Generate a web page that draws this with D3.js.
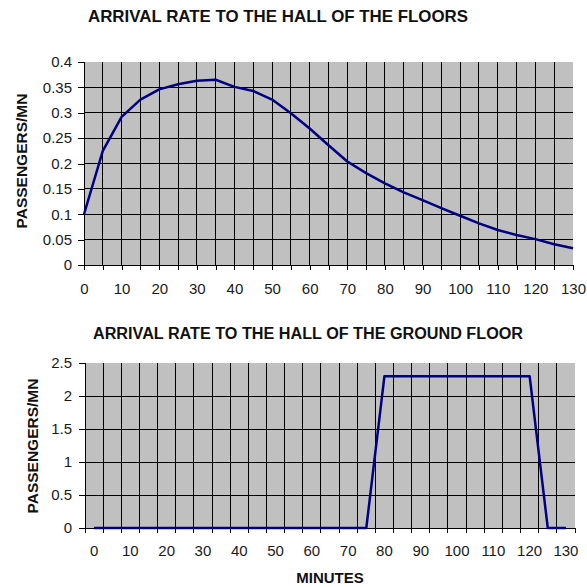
<!DOCTYPE html>
<html>
<head>
<meta charset="utf-8">
<script src="https://cdn.jsdelivr.net/npm/d3@7"></script>
<style>
	body { margin: 0; background: #fff; }
	text { font-family: "Liberation Sans", Arial, sans-serif; }
	line, path.domain { shape-rendering: crispEdges; }
</style>
</head>
<body>
<div id="chart"></div>
<script>
var minutes = [0, 5, 10, 15, 20, 25, 30, 35, 40, 45, 50, 55, 60, 65, 70, 75, 80, 85, 90, 95, 100, 105, 110, 115, 120, 125, 130];
var floorsRate = [0.1, 0.225, 0.292, 0.326, 0.346, 0.356, 0.363, 0.365, 0.351, 0.343, 0.326, 0.299, 0.269, 0.236, 0.204, 0.181, 0.161, 0.143, 0.128, 0.112, 0.097, 0.082, 0.069, 0.059, 0.051, 0.041, 0.033];
var groundRate = [0, 0, 0, 0, 0, 0, 0, 0, 0, 0, 0, 0, 0, 0, 0, 0, 2.3, 2.3, 2.3, 2.3, 2.3, 2.3, 2.3, 2.3, 2.3, 0, 0];
var floorsTicks = [0, 0.05, 0.1, 0.15, 0.2, 0.25, 0.3, 0.35, 0.4];
var groundTicks = [0, 0.5, 1, 1.5, 2, 2.5];
var minuteLabels = [0, 10, 20, 30, 40, 50, 60, 70, 80, 90, 100, 110, 120, 130];

var svg = d3.select("#chart")
	.append("svg")
	.attr("width", 587)
	.attr("height", 587)
	;

function styleAxis(g) {
	g.selectAll("path.domain").attr("stroke", "#000");
	g.selectAll(".tick line").attr("stroke", "#000");
	g.selectAll(".tick text")
		.attr("fill", "#1a1a1a")
		.style("font-size", "15px")
		.style("font-family", "'Liberation Sans', Arial, sans-serif");
}

// ---- top chart: floors ----
var x1 = d3.scaleLinear().domain([0, 130]).range([84, 573]);
var y1 = d3.scaleLinear().domain([0, 0.4]).range([265, 62]);

svg.append("rect")
	.attr("x", x1(0))
	.attr("y", y1(0.4))
	.attr("width", x1(130) - x1(0))
	.attr("height", y1(0) - y1(0.4))
	.attr("fill", "#c0c0c0")
	;

svg.append("g").selectAll("line")
	.data(minutes.filter(function(m) { return m > 0 && m < 130; }))
	.enter().append("line")
	.attr("x1", function(d) { return x1(d); })
	.attr("x2", function(d) { return x1(d); })
	.attr("y1", y1(0.4))
	.attr("y2", y1(0))
	.attr("stroke", "#000")
	;

svg.append("g").selectAll("line")
	.data(floorsTicks.filter(function(v) { return v > 0 && v < 0.4; }))
	.enter().append("line")
	.attr("x1", x1(0))
	.attr("x2", x1(130))
	.attr("y1", function(d) { return y1(d); })
	.attr("y2", function(d) { return y1(d); })
	.attr("stroke", "#000")
	;

svg.append("g")
	.attr("transform", "translate(" + x1(0) + ",0)")
	.call(d3.axisLeft(y1).tickValues(floorsTicks).tickSize(6).tickPadding(6).tickFormat(d3.format("~g")))
	.call(styleAxis)
	;

svg.append("g")
	.attr("transform", "translate(0," + y1(0) + ")")
	.call(d3.axisBottom(x1).tickValues(minutes).tickSize(5).tickPadding(13)
		.tickFormat(function(d) { return d % 10 === 0 ? d : ""; }))
	.call(styleAxis)
	;

svg.append("path")
	.datum(floorsRate)
	.attr("fill", "none")
	.attr("stroke", "#000080")
	.attr("stroke-width", 2.5)
	.attr("stroke-linejoin", "round")
	.attr("d", d3.line()
		.x(function(d, i) { return x1(minutes[i]); })
		.y(function(d) { return y1(d); }))
	;

svg.append("text")
	.attr("x", 278)
	.attr("y", 22)
	.attr("text-anchor", "middle")
	.style("font-size", "16.5px")
	.style("font-weight", "bold")
	.attr("textLength", 380)
	.attr("lengthAdjust", "spacingAndGlyphs")
	.attr("fill", "#111")
	.text("ARRIVAL RATE TO THE HALL OF THE FLOORS")
	;

svg.append("text")
	.attr("transform", "translate(27,161) rotate(-90)")
	.attr("text-anchor", "middle")
	.style("font-size", "15.5px")
	.style("font-weight", "bold")
	.attr("fill", "#111")
	.text("PASSENGERS/MN")
	;

// ---- bottom chart: ground floor ----
var x2 = d3.scaleBand().domain(minutes).range([85, 575]);
var y2 = d3.scaleLinear().domain([0, 2.5]).range([528, 363]);

svg.append("rect")
	.attr("x", 85)
	.attr("y", y2(2.5))
	.attr("width", 575 - 85)
	.attr("height", y2(0) - y2(2.5))
	.attr("fill", "#c0c0c0")
	;

svg.append("g").selectAll("line")
	.data(minutes.slice(1))
	.enter().append("line")
	.attr("x1", function(d) { return x2(d); })
	.attr("x2", function(d) { return x2(d); })
	.attr("y1", y2(2.5))
	.attr("y2", y2(0))
	.attr("stroke", "#000")
	;

svg.append("g").selectAll("line")
	.data(groundTicks.filter(function(v) { return v > 0 && v < 2.5; }))
	.enter().append("line")
	.attr("x1", 85)
	.attr("x2", 575)
	.attr("y1", function(d) { return y2(d); })
	.attr("y2", function(d) { return y2(d); })
	.attr("stroke", "#000")
	;

svg.append("g")
	.attr("transform", "translate(85,0)")
	.call(d3.axisLeft(y2).tickValues(groundTicks).tickSize(6).tickPadding(7).tickFormat(d3.format("~g")))
	.call(styleAxis)
	;

// category axis: ticks on the boundaries, labels in the middle
var xAxis2 = svg.append("g")
	.attr("transform", "translate(0," + y2(0) + ")")
	.call(d3.axisBottom(x2).tickValues(minuteLabels).tickSize(0).tickPadding(17))
	.call(styleAxis)
	;
xAxis2.selectAll("path.domain").attr("d", "M85,0H575");
xAxis2.selectAll("line.cat")
	.data(minutes.concat(["end"]))
	.enter().append("line")
	.attr("class", "cat")
	.attr("x1", function(d) { return d === "end" ? 575 : x2(d); })
	.attr("x2", function(d) { return d === "end" ? 575 : x2(d); })
	.attr("y1", 0)
	.attr("y2", 5)
	.attr("stroke", "#000")
	;

svg.append("path")
	.datum(groundRate)
	.attr("fill", "none")
	.attr("stroke", "#000080")
	.attr("stroke-width", 2.5)
	.attr("stroke-linejoin", "round")
	.attr("d", d3.line()
		.x(function(d, i) { return x2(minutes[i]) + x2.bandwidth() / 2; })
		.y(function(d) { return y2(d); }))
	;

svg.append("text")
	.attr("x", 308)
	.attr("y", 339)
	.attr("text-anchor", "middle")
	.style("font-size", "16px")
	.style("font-weight", "bold")
	.attr("textLength", 430)
	.attr("lengthAdjust", "spacingAndGlyphs")
	.attr("fill", "#111")
	.text("ARRIVAL RATE TO THE HALL OF THE GROUND FLOOR")
	;

svg.append("text")
	.attr("transform", "translate(38,446) rotate(-90)")
	.attr("text-anchor", "middle")
	.style("font-size", "15.5px")
	.style("font-weight", "bold")
	.attr("fill", "#111")
	.text("PASSENGERS/MN")
	;

svg.append("text")
	.attr("x", 330)
	.attr("y", 583)
	.attr("text-anchor", "middle")
	.style("font-size", "15px")
	.style("font-weight", "bold")
	.attr("fill", "#111")
	.text("MINUTES")
	;
</script>
</body>
</html>
